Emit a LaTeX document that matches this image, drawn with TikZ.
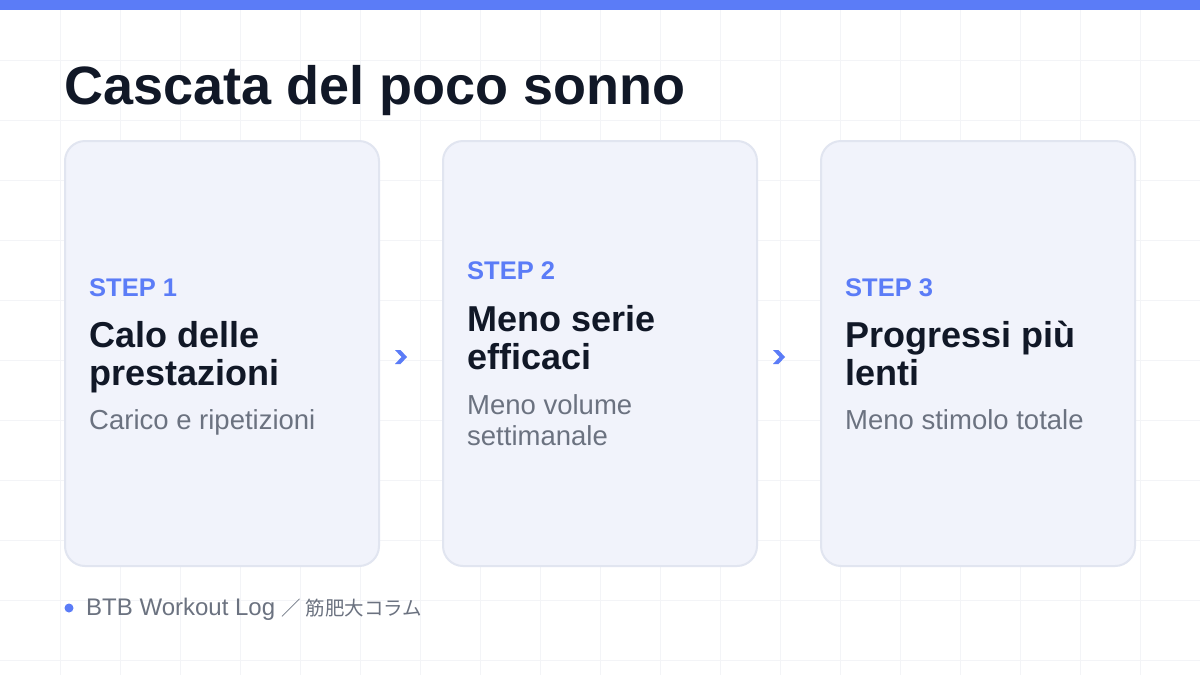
\documentclass[tikz,border=0pt]{standalone}
\usepackage{fontspec}
\setmainfont{Liberation Sans}
\newfontfamily\cjkfont{Noto Sans CJK JP}
\definecolor{accent}{HTML}{5B7CF7}
\definecolor{ink}{HTML}{111827}
\definecolor{muted}{HTML}{6B7280}
\definecolor{cardfill}{HTML}{F1F3FB}
\definecolor{cardline}{HTML}{E1E5F0}
\definecolor{gridc}{HTML}{F3F4F7}
\tikzset{
  card/.style={draw=cardline, line width=2pt, fill=cardfill, rounded corners=20pt,
    minimum width=314pt, minimum height=425pt, inner sep=0pt},
  steplabel/.style={anchor=base west, inner sep=0pt, text=accent, font=\fontsize{25.5}{28}\selectfont\bfseries},
  heading/.style={anchor=base west, inner sep=0pt, text=ink, font=\fontsize{36}{40}\selectfont\bfseries},
  subtext/.style={anchor=base west, inner sep=0pt, text=muted, font=\fontsize{27.5}{32}\selectfont},
  chevmark/.style={fill=accent},
}
\begin{document}
\begin{tikzpicture}[x=1pt,y=-1pt]
\useasboundingbox (0,0) rectangle (1200,675);
\fill[white] (0,0) rectangle (1200,675);
% grid
\foreach \gx in {60,120,...,1140} \draw[gridc, line width=1pt] (\gx,10) -- (\gx,675);
\foreach \gy in {60,120,...,660} \draw[gridc, line width=1pt] (0,\gy) -- (1200,\gy);
% top bar
\fill[accent] (0,0) rectangle (1200,10);
% title
\node[anchor=base west, inner sep=0pt, text=ink, font=\fontsize{54}{60}\selectfont\bfseries] (title) at (64,104) {Cascata del poco sonno};
% cards
\node[card] (c1) at (222,353.5) {};
\node[card] (c2) at (600,353.5) {};
\node[card] (c3) at (978,353.5) {};
% card 1
\node[steplabel] (s1) at (89,296) {STEP 1};
\node[heading] (h1a) at (89,347) {Calo delle};
\node[heading] (h1b) at (89,385) {prestazioni};
\node[subtext] (t1) at (89,429) {Carico e ripetizioni};
% card 2
\node[steplabel] (s2) at (467,279) {STEP 2};
\node[heading] (h2a) at (467,331) {Meno serie};
\node[heading] (h2b) at (467,369) {efficaci};
\node[subtext] (t2a) at (467,414) {Meno volume};
\node[subtext] (t2b) at (467,445) {settimanale};
% card 3
\node[steplabel] (s3) at (845,296) {STEP 3};
\node[heading] (h3a) at (845,347) {Progressi più};
\node[heading] (h3b) at (845,385) {lenti};
\node[subtext] (t3) at (845,429) {Meno stimolo totale};
% chevrons
\coordinate (a1) at (401,357);
\coordinate (a2) at (779,357);
\foreach \ch in {a1,a2}
  \fill[chevmark, shift={(\ch)}] (-6,-7) -- (-0.5,-7) -- (6,0) -- (-0.5,7) -- (-6,7) -- (0.5,0) -- cycle;
% footer
\fill[accent] (69,608) circle (4.5pt);
\node[anchor=base west, inner sep=0pt, text=muted, font=\fontsize{24}{24}\selectfont] (foot) at (86,615) {BTB Workout Log {\cjkfont\fontsize{19.5}{24}\selectfont ／ 筋肥大コラム}};
\end{tikzpicture}
\end{document}
